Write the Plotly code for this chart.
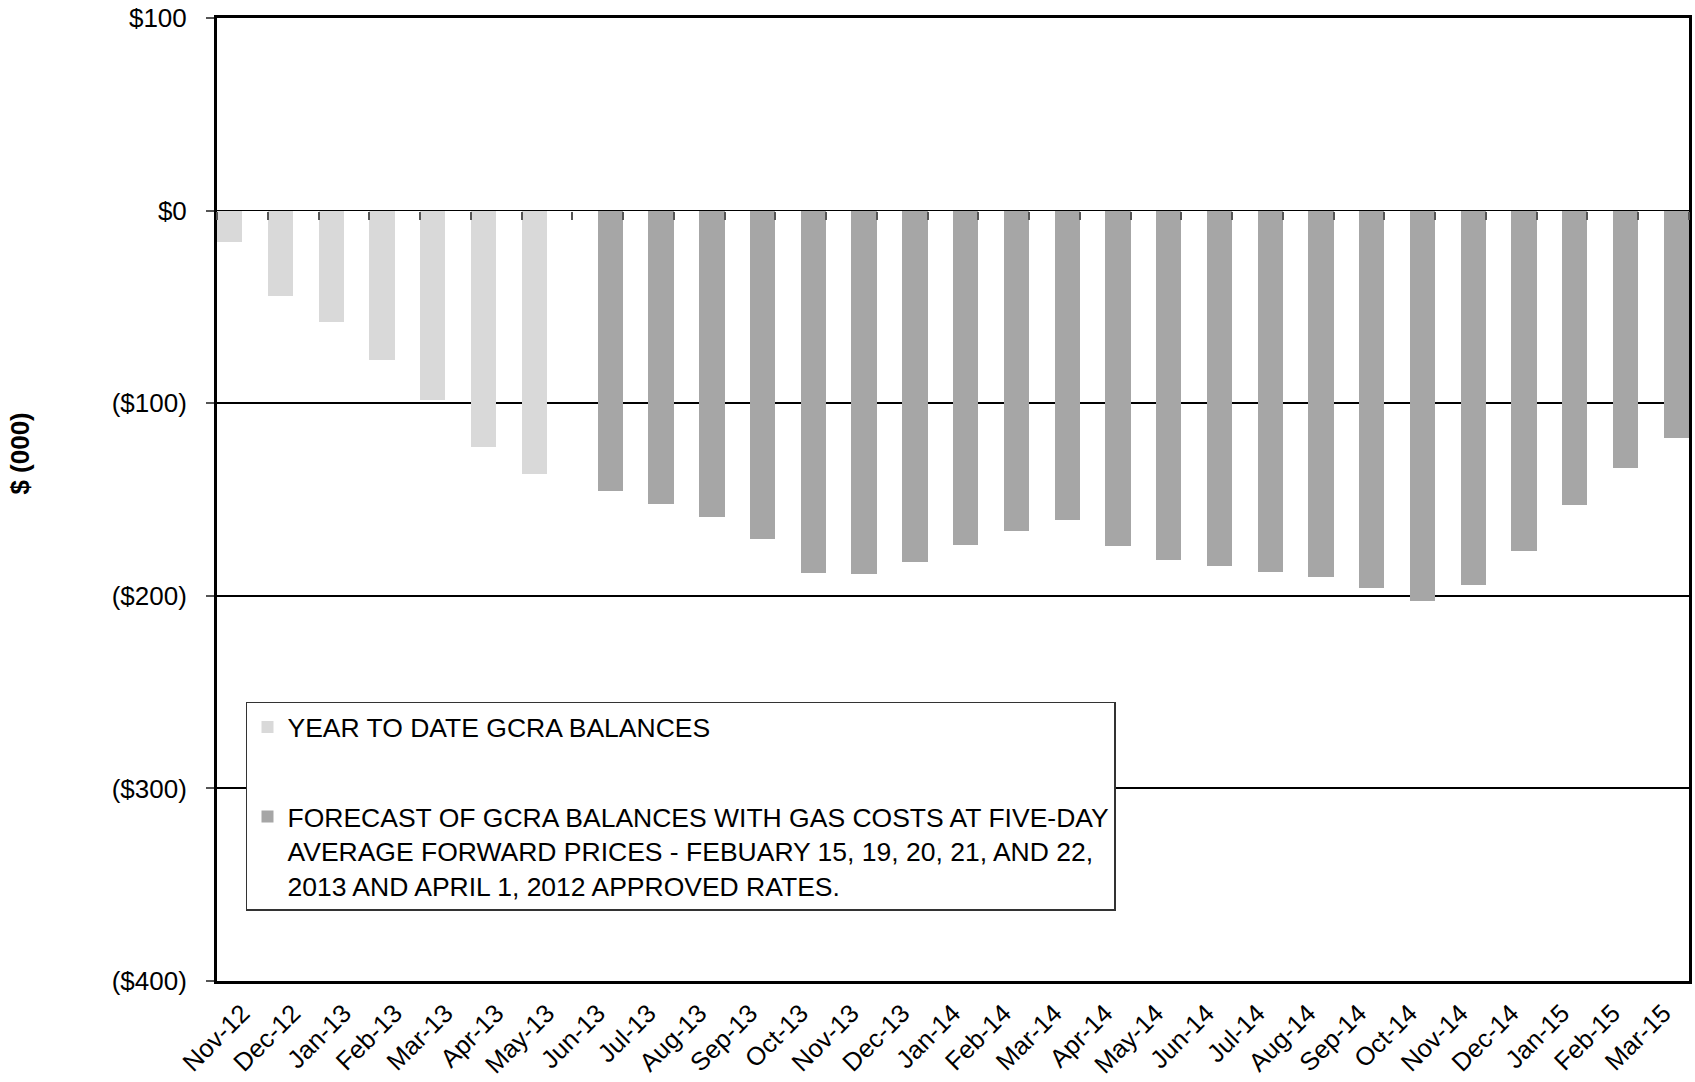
import plotly.graph_objects as go

months = ["Nov-12", "Dec-12", "Jan-13", "Feb-13", "Mar-13", "Apr-13", "May-13",
          "Jun-13", "Jul-13", "Aug-13", "Sep-13", "Oct-13", "Nov-13", "Dec-13",
          "Jan-14", "Feb-14", "Mar-14", "Apr-14", "May-14", "Jun-14", "Jul-14",
          "Aug-14", "Sep-14", "Oct-14", "Nov-14", "Dec-14", "Jan-15", "Feb-15", "Mar-15"]

ytd_values = [-16.2, -44.2, -58.0, -77.8, -98.3, -122.9, -137.0] + [None] * 22

forecast_values = [None] * 7 + [-145.6, -152.3, -159.2, -170.6, -187.9, -188.6, -182.2,
                                -173.8, -166.4, -160.9, -174.2, -181.2, -184.7, -187.4,
                                -190.3, -195.9, -202.6, -194.5, -176.8, -153.0, -133.7, -118.1]

y_tickvals = [100, 0, -100, -200, -300, -400]
y_ticktext = ["$100", "$0", "($100)", "($200)", "($300)", "($400)"]

ytd_name = "YEAR TO DATE GCRA BALANCES"
forecast_name = ("FORECAST OF GCRA BALANCES WITH GAS COSTS AT FIVE-DAY<br>"
                 "AVERAGE FORWARD PRICES - FEBUARY 15, 19, 20, 21, AND 22,<br>"
                 "2013 AND APRIL 1, 2012 APPROVED RATES.")

FONT = "Liberation Sans, Arial, sans-serif"
x_range = [-0.5, len(months) - 0.5]

fig = go.Figure()
fig.add_trace(go.Bar(x=months, y=ytd_values, name=ytd_name,
                     marker=dict(color="#d9d9d9", line=dict(width=0)),
                     legendgroup="a"))
fig.add_trace(go.Bar(x=months, y=forecast_values, name=forecast_name,
                     marker=dict(color="#a6a6a6", line=dict(width=0)),
                     legendgroup="b"))
# helper axis trace for category-boundary tick marks on the zero line
fig.add_trace(go.Scatter(x=months, y=[0] * len(months), xaxis="x2", mode="markers",
                         marker=dict(opacity=0, size=1), showlegend=False, hoverinfo="skip"))

fig.update_layout(
    width=1695, height=1082,
    margin=dict(l=217, r=3, t=15, b=98),
    paper_bgcolor="white", plot_bgcolor="white",
    barmode="group", bargap=0, bargroupgap=0,
    font=dict(family=FONT, color="black"),
    showlegend=True,
    legend=dict(x=0.0197, y=0.29, xanchor="left", yanchor="top",
                bgcolor="white", bordercolor="#333333", borderwidth=1.5,
                font=dict(size=26.5, family=FONT), valign="top",
                tracegroupgap=52, itemsizing="constant"),
    xaxis=dict(type="category", categoryorder="array", categoryarray=months,
               range=x_range, autorange=False,
               tickangle=-45, tickfont=dict(size=25.5, family=FONT),
               ticks="", ticklabelstandoff=4,
               showline=True, linecolor="black", linewidth=3, mirror=True,
               showgrid=False, zeroline=False),
    xaxis2=dict(type="category", categoryorder="array", categoryarray=months,
                range=x_range, autorange=False,
                overlaying="x", anchor="free", position=0.8,
                showticklabels=False, ticks="outside", tickson="boundaries",
                ticklen=8, tickwidth=1.5, tickcolor="#555555",
                showline=False, showgrid=False, zeroline=False),
    yaxis=dict(range=[-400, 100], tickvals=y_tickvals, ticktext=y_ticktext,
               tickfont=dict(size=26, family=FONT),
               ticks="outside", ticklen=8, tickwidth=1.5, tickcolor="#555555",
               ticklabelstandoff=14,
               showline=True, linecolor="black", linewidth=3, mirror=True,
               showgrid=True, gridcolor="black", gridwidth=2,
               zeroline=True, zerolinecolor="black", zerolinewidth=1.2),
    annotations=[dict(text="<b>$ (000)</b>", textangle=-90, xref="paper", yref="paper",
                      x=-0.1336, y=0.548, xanchor="center", yanchor="middle",
                      showarrow=False, font=dict(size=26, family=FONT, color="black"))],
)

fig.write_html("out.html")
